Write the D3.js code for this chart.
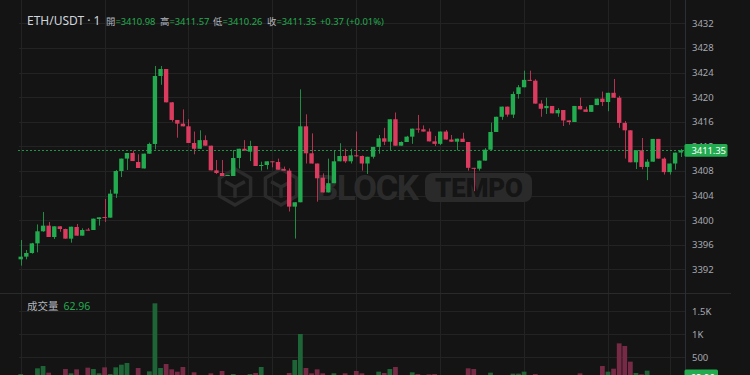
<!DOCTYPE html>
<html>
<head>
<meta charset="utf-8">
<script src="https://cdn.jsdelivr.net/npm/d3@7"></script>
<style>
    body { margin: 0; background: #141414; }
    svg { display: block; font-family: "Noto Sans", "Noto Sans CJK TC", sans-serif; }
</style>
</head>
<body>
<div id="chart"></div>
<script>
const WIDTH = 750;
const HEIGHT = 375;

// one-minute candles, ETH/USDT
const opens = [3393.62,3394.06,3394.65,3396.22,3398.18,3399.10,3397.25,3398.99,3398.55,3396.98,
    3398.88,3397.47,3398.45,3398.39,3400.18,3400.50,3400.40,3404.30,3407.98,3410.00,
    3410.91,3409.45,3408.40,3410.80,3412.38,3423.43,3424.57,3419.15,3416.28,3415.68,
    3415.25,3412.54,3411.60,3413.00,3412.10,3408.09,3407.66,3407.17,3407.17,3410.10,
    3411.60,3411.13,3412.05,3408.90,3408.96,3409.56,3409.45,3408.30,3408.04,3402.19,
    3402.90,3415.25,3410.86,3409.20,3406.90,3404.50,3406.00,3409.56,3410.42,3409.56,
    3410.53,3410.42,3409.20,3410.30,3411.90,3413.30,3412.75,3416.40,3412.10,3412.70,
    3413.57,3414.87,3414.76,3414.40,3412.80,3412.40,3414.40,3413.10,3412.75,3413.24,
    3412.70,3408.50,3408.36,3409.67,3411.45,3414.33,3416.80,3418.45,3417.15,3420.50,
    3421.60,3422.80,3422.67,3418.94,3418.20,3418.56,3417.36,3417.90,3416.20,3415.95,
    3418.56,3418.00,3417.60,3418.70,3419.75,3419.20,3420.70,3419.90,3415.80,3414.60,
    3409.40,3411.35,3408.64,3409.50,3413.20,3410.00,3407.80,3409.20,3410.98];
const highs = [3396.77,3395.14,3396.30,3399.30,3401.32,3399.70,3399.00,3399.00,3398.60,3398.93,
    3399.37,3398.66,3398.72,3400.24,3400.45,3403.43,3404.95,3408.15,3410.00,3410.91,
    3411.30,3410.70,3410.80,3412.60,3425.06,3425.06,3424.57,3419.20,3416.28,3418.00,
    3416.40,3414.40,3414.60,3413.78,3412.10,3409.77,3409.77,3407.33,3411.40,3411.60,
    3413.00,3412.90,3412.05,3409.50,3409.56,3409.56,3410.00,3408.70,3408.40,3402.90,
    3421.26,3417.20,3414.10,3409.20,3407.60,3410.00,3411.40,3412.50,3411.60,3411.60,
    3414.40,3410.50,3410.30,3411.90,3413.84,3415.00,3416.40,3417.50,3412.80,3413.70,
    3414.87,3417.10,3415.40,3414.90,3413.68,3414.40,3414.65,3413.84,3413.24,3414.20,
    3412.70,3408.50,3409.67,3411.70,3415.85,3416.80,3418.45,3418.45,3420.90,3421.97,
    3424.30,3424.30,3422.90,3419.50,3419.90,3418.56,3418.20,3417.90,3416.20,3418.56,
    3419.90,3418.45,3418.70,3419.75,3420.90,3420.70,3422.95,3420.20,3416.10,3414.60,
    3411.35,3413.35,3409.90,3413.20,3413.20,3410.20,3409.20,3410.97,3411.57];
const lows = [3392.60,3393.62,3394.54,3394.76,3398.10,3397.25,3396.93,3398.10,3396.98,3396.33,
    3397.47,3397.47,3398.34,3398.39,3399.10,3399.69,3400.40,3403.60,3407.00,3408.15,
    3409.60,3408.47,3408.40,3410.80,3411.50,3422.00,3419.15,3416.00,3413.40,3415.25,
    3412.54,3410.70,3411.60,3412.10,3408.09,3407.50,3407.17,3407.17,3407.17,3408.40,
    3411.30,3409.60,3408.80,3408.04,3408.26,3408.58,3408.20,3408.04,3401.40,3397.00,
    3402.90,3409.20,3409.20,3403.00,3404.50,3404.50,3406.00,3409.56,3409.30,3409.20,
    3410.30,3408.04,3407.50,3410.00,3410.80,3412.20,3411.40,3412.10,3412.10,3412.70,
    3412.40,3414.20,3414.40,3412.80,3412.05,3412.20,3413.10,3412.75,3411.35,3412.70,
    3408.04,3404.70,3408.04,3409.67,3411.40,3414.33,3416.30,3416.80,3416.60,3419.75,
    3421.60,3422.67,3418.94,3416.80,3417.25,3417.36,3416.80,3415.30,3415.50,3415.95,
    3418.00,3417.60,3417.60,3418.70,3418.56,3417.70,3419.90,3415.00,3410.00,3409.40,
    3408.30,3408.26,3406.50,3409.50,3410.00,3407.40,3407.40,3408.20,3410.26];
const closes = [3394.06,3394.65,3396.22,3398.18,3399.10,3397.25,3398.99,3398.55,3396.98,3398.93,
    3397.47,3398.39,3398.34,3400.24,3400.45,3400.40,3404.30,3407.98,3410.00,3410.91,
    3409.60,3408.47,3410.80,3412.38,3423.43,3424.57,3419.15,3416.28,3415.68,3415.25,
    3412.54,3411.60,3413.00,3412.10,3408.09,3407.66,3407.17,3407.33,3410.10,3411.60,
    3411.30,3412.05,3408.80,3408.96,3409.56,3409.40,3408.20,3408.04,3402.19,3402.90,
    3415.25,3410.86,3409.20,3406.80,3404.50,3406.00,3409.56,3410.42,3409.56,3410.53,
    3410.42,3409.20,3410.30,3411.90,3413.30,3412.75,3416.40,3412.10,3412.70,3413.57,
    3414.87,3414.76,3414.40,3412.80,3412.40,3414.40,3413.10,3412.75,3413.24,3412.70,
    3408.50,3408.36,3409.67,3411.45,3414.33,3416.80,3418.45,3417.15,3420.50,3421.60,
    3422.80,3422.67,3418.94,3418.10,3418.56,3417.36,3417.90,3416.20,3415.95,3418.56,
    3418.00,3417.60,3418.70,3419.75,3419.20,3420.70,3419.90,3415.80,3414.60,3409.40,
    3411.35,3408.64,3409.50,3413.20,3410.00,3407.80,3409.20,3410.97,3411.35];
const volumes = [130,90,95,254,304,159,100,80,239,145,
    232,95,268,239,145,275,130,275,333,370,
    100,261,90,188,1667,261,348,232,181,283,
    100,167,90,80,145,85,196,60,130,90,
    70,130,152,283,80,70,80,95,152,435,
    1000,261,145,232,145,100,145,90,145,70,
    196,145,80,100,181,152,239,283,80,90,
    167,130,70,123,130,100,85,60,90,80,
    254,239,100,95,159,100,95,80,138,138,
    181,70,130,90,80,70,85,95,60,100,
    145,60,80,90,304,181,246,797,739,399,
    152,123,203,100,90,95,85,90,62.96];

const priceTicks = [3392, 3396, 3400, 3404, 3408, 3412, 3416, 3420, 3424, 3428, 3432];
const volumeTicks = [500, 1000, 1500];
const volumeTickLabels = ["500", "1K", "1.5K"];
const gridCandles = [0, 15, 30, 45, 60, 75, 90, 105, 116];
const symbolName = "ETH/USDT · 1";
const ohlcLabels = ["開", "高", "低", "收"];
const volumeTitle = "成交量";

const UP = "#22ab4f", DOWN = "#dc3b60";
const UP_VOL = "#1d6536", DOWN_VOL = "#762a45";
const GRID = "#232323";

const n = opens.length;
const last = n - 1;
const lastPrice = closes[last];
const lastVolume = volumes[last];

const x = d3.scaleBand()
    .domain(d3.range(n))
    .range([17.9, 683.5])
    .paddingInner(0.22)
    .paddingOuter(0.11);
const cx = i => x(i) + x.bandwidth() / 2;

const y = d3.scaleLinear().domain([3392, 3432]).range([269.3, 23.3]);
const yVol = d3.scaleLinear().domain([0, 1500]).range([380, 311]);

const svg = d3.select("#chart").append("svg")
    .attr("width", WIDTH)
    .attr("height", HEIGHT);

svg.append("rect").attr("width", WIDTH).attr("height", HEIGHT).attr("fill", "#141414");

// grid
const grid = svg.append("g").attr("class", "grid");
grid.selectAll(".vgrid").data(gridCandles).enter().append("line")
    .attr("x1", d => Math.round(cx(d)) + 0.5).attr("x2", d => Math.round(cx(d)) + 0.5)
    .attr("y1", 0).attr("y2", HEIGHT)
    .attr("stroke", GRID);
grid.selectAll(".hgrid").data(priceTicks).enter().append("line")
    .attr("x1", 19).attr("x2", 685)
    .attr("y1", d => Math.round(y(d)) + 0.5).attr("y2", d => Math.round(y(d)) + 0.5)
    .attr("stroke", GRID);
grid.selectAll(".vgridv").data(volumeTicks).enter().append("line")
    .attr("x1", 19).attr("x2", 685)
    .attr("y1", d => Math.round(yVol(d)) + 0.5).attr("y2", d => Math.round(yVol(d)) + 0.5)
    .attr("stroke", GRID);

// watermark
const wm = svg.append("g").attr("class", "watermark");
function cube(g, cxp, cyp, r) {
    const pts = d3.range(6).map(k => {
        const a = Math.PI / 3 * k - Math.PI / 2;
        return [cxp + r * Math.cos(a), cyp + r * Math.sin(a)];
    });
    g.append("path").attr("d", "M" + pts.join("L") + "Z")
        .attr("fill", "none").attr("stroke", "#2b2b2b").attr("stroke-width", 3.5);
    g.append("path")
        .attr("d", `M${cxp - r * 0.55},${cyp - r * 0.3}L${cxp},${cyp}L${cxp + r * 0.55},${cyp - r * 0.3}M${cxp},${cyp}L${cxp},${cyp + r * 0.6}`)
        .attr("fill", "none").attr("stroke", "#2b2b2b").attr("stroke-width", 3.5);
}
cube(wm, 235, 187, 18);
cube(wm, 281, 187, 18);
wm.append("text").attr("x", 316).attr("y", 200)
    .attr("font-size", 35).attr("font-weight", 700).attr("fill", "#2b2b2b")
    .attr("font-family", "Roboto, sans-serif").attr("textLength", 103)
    .text("BLOCK");
wm.append("rect").attr("x", 425).attr("y", 173).attr("width", 107).attr("height", 29)
    .attr("rx", 8).attr("fill", "#2a2a2a");
wm.append("text").attr("x", 435).attr("y", 197)
    .attr("font-size", 26).attr("font-weight", 900).attr("fill", "#151515")
    .attr("font-family", "Roboto, sans-serif").attr("textLength", 88)
    .text("TEMPO");

// separator and axis line
svg.append("line").attr("x1", 0).attr("x2", 731).attr("y1", 293.5).attr("y2", 293.5)
    .attr("stroke", "#2a2a2a");
svg.append("line").attr("x1", 685.5).attr("x2", 685.5).attr("y1", 0).attr("y2", HEIGHT)
    .attr("stroke", "#2a2e39");

// volume
svg.append("g").selectAll("rect").data(d3.range(n)).enter().append("rect")
    .attr("x", i => x(i) - 0.2)
    .attr("width", x.bandwidth() + 0.4)
    .attr("y", i => yVol(volumes[i]))
    .attr("height", i => yVol(0) - yVol(volumes[i]))
    .attr("fill", i => closes[i] >= opens[i] ? UP_VOL : DOWN_VOL);

// candles
const candle = svg.append("g").selectAll("g").data(d3.range(n)).enter().append("g");
candle.append("line")
    .attr("x1", i => Math.round(cx(i)) + 0.5).attr("x2", i => Math.round(cx(i)) + 0.5)
    .attr("y1", i => y(highs[i])).attr("y2", i => y(lows[i]))
    .attr("stroke", i => closes[i] >= opens[i] ? UP : DOWN)
    .attr("stroke-opacity", 0.8);
candle.append("rect")
    .attr("x", i => x(i))
    .attr("width", x.bandwidth())
    .attr("y", i => y(Math.max(opens[i], closes[i])))
    .attr("height", i => Math.max(1, Math.abs(y(opens[i]) - y(closes[i]))))
    .attr("fill", i => closes[i] >= opens[i] ? UP : DOWN);

// last price line
svg.append("line").attr("x1", 18).attr("x2", 685)
    .attr("y1", Math.round(y(lastPrice)) + 0.5).attr("y2", Math.round(y(lastPrice)) + 0.5)
    .attr("stroke", UP).attr("stroke-dasharray", "2,2").attr("stroke-opacity", 0.85);

// price axis
const yAxis = d3.axisRight(y).tickValues(priceTicks).tickFormat(d3.format("d"))
    .tickSize(0).tickPadding(7);
const yAxisContainer = svg.append("g").attr("transform", "translate(685,0)").call(yAxis);
yAxisContainer.select(".domain").remove();
yAxisContainer.selectAll("text")
    .attr("fill", "#a5a8b0").attr("font-size", 9.5).attr("font-family", "Noto Sans, sans-serif");

const vAxis = d3.axisRight(yVol).tickValues(volumeTicks)
    .tickFormat((d, i) => volumeTickLabels[i]).tickSize(0).tickPadding(7);
const vAxisContainer = svg.append("g").attr("transform", "translate(685,0)").call(vAxis);
vAxisContainer.select(".domain").remove();
vAxisContainer.selectAll("text")
    .attr("fill", "#a5a8b0").attr("font-size", 9.5).attr("font-family", "Noto Sans, sans-serif");

// last price / volume badges
svg.append("rect").attr("x", 684.5).attr("y", y(lastPrice) - 6.3).attr("width", 43).attr("height", 12.7)
    .attr("rx", 1.5).attr("fill", UP);
svg.append("text").attr("x", 691.5).attr("y", y(lastPrice) + 3.4)
    .attr("font-size", 9.5).attr("letter-spacing", -0.1).attr("fill", "#ffffff").text(lastPrice.toFixed(2));
svg.append("rect").attr("x", 684.5).attr("y", yVol(lastVolume) - 7.5).attr("width", 33.5).attr("height", 14)
    .attr("rx", 1.5).attr("fill", UP);
svg.append("text").attr("x", 690.5).attr("y", yVol(lastVolume) + 3.5)
    .attr("font-size", 9.5).attr("fill", "#ffffff").text(lastVolume.toFixed(2));

// header
svg.append("text").attr("x", 27).attr("y", 25)
    .attr("font-size", 12).attr("fill", "#d1d4dc").text(symbolName);
const ohlcValues = [opens[last], highs[last], lows[last], closes[last]];
const ohlcX = [106, 160, 213, 267];
ohlcLabels.forEach((lbl, k) => {
    const t = svg.append("text").attr("x", ohlcX[k]).attr("y", 24.5).attr("font-size", 9.4);
    t.append("tspan").attr("fill", "#b2b5be").attr("font-family", "Noto Sans CJK TC, sans-serif").text(lbl);
    t.append("tspan").attr("fill", UP).text("=" + ohlcValues[k].toFixed(2));
});
const change = closes[last] - opens[last];
svg.append("text").attr("x", 320).attr("y", 24.5).attr("font-size", 9.4).attr("fill", UP)
    .text("+" + change.toFixed(2) + " (+" + (change / opens[last] * 100).toFixed(2) + "%)");

const vt = svg.append("text").attr("x", 27).attr("y", 309.5).attr("font-size", 10.5);
vt.append("tspan").attr("fill", "#b2b5be").attr("font-family", "Noto Sans CJK TC, sans-serif").text(volumeTitle);
vt.append("tspan").attr("fill", UP).attr("dx", 5).text(lastVolume.toFixed(2));
</script>
</body>
</html>
